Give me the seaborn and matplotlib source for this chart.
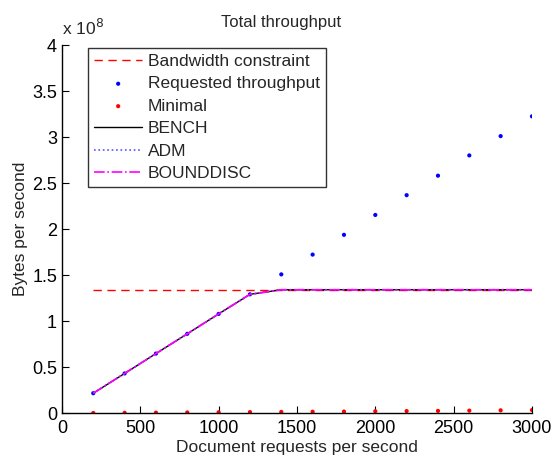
import numpy as np
import pandas as pd
import matplotlib
matplotlib.use("Agg")
import matplotlib.pyplot as plt
import seaborn as sns
from matplotlib.ticker import FuncFormatter

# --------------------------------
# DATA
# --------------------------------

requests = [200, 400, 600, 800, 1000, 1200, 1400, 1600, 1800, 2000,
            2200, 2400, 2600, 2800, 3000]

requested = [0.215e8, 0.43e8, 0.646e8, 0.861e8, 1.077e8, 1.29e8, 1.507e8,
             1.722e8, 1.937e8, 2.153e8, 2.368e8, 2.58e8, 2.80e8, 3.01e8, 3.225e8]

minimal = [0.0e8, 0.002e8, 0.004e8, 0.006e8, 0.008e8, 0.010e8, 0.012e8,
           0.014e8, 0.016e8, 0.019e8, 0.021e8, 0.023e8, 0.026e8, 0.029e8, 0.032e8]

bench = [0.215e8, 0.43e8, 0.646e8, 0.861e8, 1.077e8, 1.29e8, 1.34e8,
         1.34e8, 1.34e8, 1.34e8, 1.34e8, 1.34e8, 1.34e8, 1.34e8, 1.34e8]

adm = list(bench)
bounddisc = list(bench)

bandwidth = 1.34e8

df = pd.DataFrame({
    "requests": requests,
    "requested": requested,
    "minimal": minimal,
    "bench": bench,
    "adm": adm,
    "bounddisc": bounddisc,
    "bandwidth": [bandwidth] * len(requests),
})

# --------------------------------
# PLOT
# --------------------------------

sns.set_style("ticks")
plt.rcParams["font.family"] = ["Liberation Sans", "DejaVu Sans"]
plt.rcParams["xtick.direction"] = "in"
plt.rcParams["ytick.direction"] = "in"

fig = plt.figure(figsize=(5.53, 4.55), dpi=100)
ax = fig.add_axes([0.112, 0.0923, 0.85, 0.8087])

sns.lineplot(data=df, x="requests", y="bandwidth", ax=ax, color="red",
             linestyle=(0, (6, 4)), linewidth=1, label="Bandwidth constraint")
sns.scatterplot(data=df, x="requests", y="requested", ax=ax, color="blue",
                s=9, edgecolor="none", label="Requested throughput")
sns.scatterplot(data=df, x="requests", y="minimal", ax=ax, color="red",
                s=9, edgecolor="none", label="Minimal")
sns.lineplot(data=df, x="requests", y="bench", ax=ax, color="black",
             linewidth=1, label="BENCH")
sns.lineplot(data=df, x="requests", y="adm", ax=ax, color="#5555ff",
             linestyle=":", linewidth=1.2, label="ADM")
sns.lineplot(data=df, x="requests", y="bounddisc", ax=ax, color="magenta",
             linestyle="-.", linewidth=1.2, label="BOUNDDISC")

ax.set_xlim(0, 3000)
ax.set_ylim(0, 4e8)
ax.set_xticks([0, 500, 1000, 1500, 2000, 2500, 3000])
ax.set_yticks(np.arange(0, 4.01e8, 0.5e8))
ax.yaxis.set_major_formatter(FuncFormatter(lambda v, p: f"{v / 1e8:g}"))
ax.tick_params(labelsize=13, length=5, width=0.8, colors="black")
ax.tick_params(axis="x", pad=5)

sns.despine(ax=ax)
for s in ["left", "bottom"]:
    ax.spines[s].set_linewidth(1)
    ax.spines[s].set_color("black")

ax.text(0.0, 1.02, "x 10$^8$", transform=ax.transAxes, fontsize=12.5,
        ha="left", va="bottom")

ax.set_title("Total throughput", fontsize=12, pad=13, x=0.467)
ax.set_xlabel("Document requests per second", fontsize=12.5, labelpad=2)
ax.set_ylabel("Bytes per second", fontsize=12.5, labelpad=3)

leg = ax.legend(loc="upper left", bbox_to_anchor=(0.055, 0.993), fontsize=12.5,
                frameon=True, fancybox=False, edgecolor="black",
                borderpad=0.35, labelspacing=0.42, handlelength=2.8,
                handletextpad=0.3, borderaxespad=0)
leg.get_frame().set_linewidth(1)

plt.savefig("out.png", dpi=100)
